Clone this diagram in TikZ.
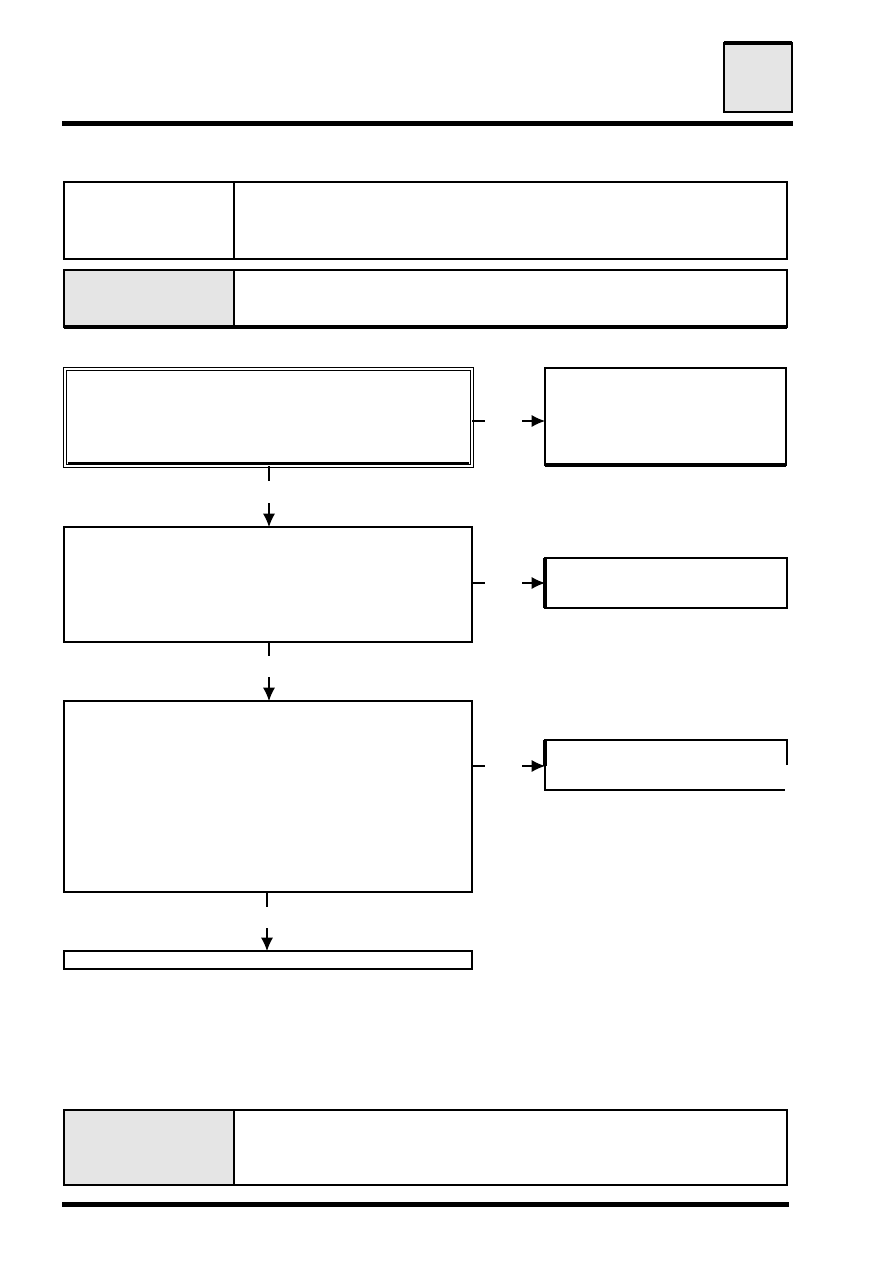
\documentclass[tikz,border=0pt]{standalone}
\usetikzlibrary{arrows.meta}
\newcommand\bx[6]{\node[#1, minimum width={(#4-#2)*0.75pt}, minimum height={(#5-#3)*0.75pt}] (#6) at ({(#2+#4)/2},{(#3+#5)/2}) {};}
\tikzset{
  cell/.style={draw, line width=1.3pt, inner sep=0pt, outer sep=0pt},
  thin cell/.style={draw, line width=1.1pt, inner sep=0pt, outer sep=0pt},
  greycell/.style={fill=black!10},
  bar/.style={fill=black, draw=none, inner sep=0pt, outer sep=0pt},
  conn/.style={line width=0.8pt},
  arr/.style={line width=0.8pt, -{Latex[length=10pt,width=9pt]}},
  heavy/.style={line width=2.4pt},
}
\begin{document}
\begin{tikzpicture}[x=0.75pt,y=-0.75pt]
\useasboundingbox (0,0) rectangle (893,1263);
% header
\bx{cell,greycell,line width=1.1pt}{724}{43}{792}{112}{tab}
\draw[heavy] (tab.north west) -- (tab.north east);
\bx{bar}{62}{121}{793}{126}{topbar}
% box A
\bx{cell}{64}{182}{234}{259}{aL}
\bx{cell}{234}{182}{787}{259}{aR}
% box B
\bx{cell,greycell}{64}{270}{234}{327}{bL}
\bx{cell}{234}{270}{787}{327}{bR}
\draw[heavy] (bL.south west) -- (bR.south east);
% flow box 1 (double border)
\bx{draw, double, line width=0.9pt, double distance=1.6pt, inner sep=0pt, outer sep=0pt}{65}{369}{472}{466}{f1}
\draw[line width=1.6pt] ([xshift=2pt,yshift=2.2pt]f1.south west) -- ([xshift=-2pt,yshift=2.2pt]f1.south east);
% right box 1
\bx{cell}{545}{368}{786}{465}{r1}
\draw[heavy] (r1.south west) -- (r1.south east);
% flow box 2
\bx{thin cell}{64}{527}{472}{642}{f2}
% right box 2
\bx{thin cell}{545}{558}{787}{608}{r2}
\draw[heavy] (r2.north west) -- (r2.south west);
% flow box 3
\bx{thin cell}{64}{701}{472}{892}{f3}
% right box 3 (partly open)
\coordinate (r3nw) at (545,740);
\coordinate (r3ne) at (787,740);
\coordinate (r3se) at (787,765);
\coordinate (r3sw) at (545,790);
\coordinate (r3be) at (785,790);
\coordinate (r3w) at (545,766);
\draw[line width=1.1pt] (r3se) -- (r3ne) -- (r3nw) -- (r3sw) -- (r3be);
\draw[heavy] (r3nw) -- (r3w);
% flow box 4
\bx{thin cell}{64}{951}{472}{969}{f4}
% bottom box C
\bx{cell,greycell}{64}{1110}{234}{1185}{cL}
\bx{cell}{234}{1110}{787}{1185}{cR}
\bx{bar}{62}{1202}{789}{1207}{botbar}

% connectors: right side
\coordinate (s1a) at (485,421); \coordinate (s1b) at (522,421);
\draw[conn] (f1.east |- s1a) -- (s1a);
\draw[arr] (s1b) -- (r1.west |- s1b);
\coordinate (s2a) at (485,583); \coordinate (s2b) at (522,583);
\draw[conn] (f2.east |- s2a) -- (s2a);
\draw[arr] (s2b) -- (r2.west |- s2b);
\coordinate (s3a) at (485,766); \coordinate (s3b) at (522,766);
\draw[conn] (f3.east |- s3a) -- (s3a);
\draw[arr] (s3b) -- (r3w);
% connectors: downward
\coordinate (d1a) at (269,481); \coordinate (d1b) at (269,503);
\draw[conn] (d1a |- f1.south) -- (d1a);
\draw[arr] (d1b) -- (d1b |- f2.north);
\coordinate (d2a) at (269,656); \coordinate (d2b) at (269,677);
\draw[conn] (d2a |- f2.south) -- (d2a);
\draw[arr] (d2b) -- (d2b |- f3.north);
\coordinate (d3a) at (267,907); \coordinate (d3b) at (267,928);
\draw[conn] (d3a |- f3.south) -- (d3a);
\draw[arr] (d3b) -- (d3b |- f4.north);
\end{tikzpicture}
\end{document}
